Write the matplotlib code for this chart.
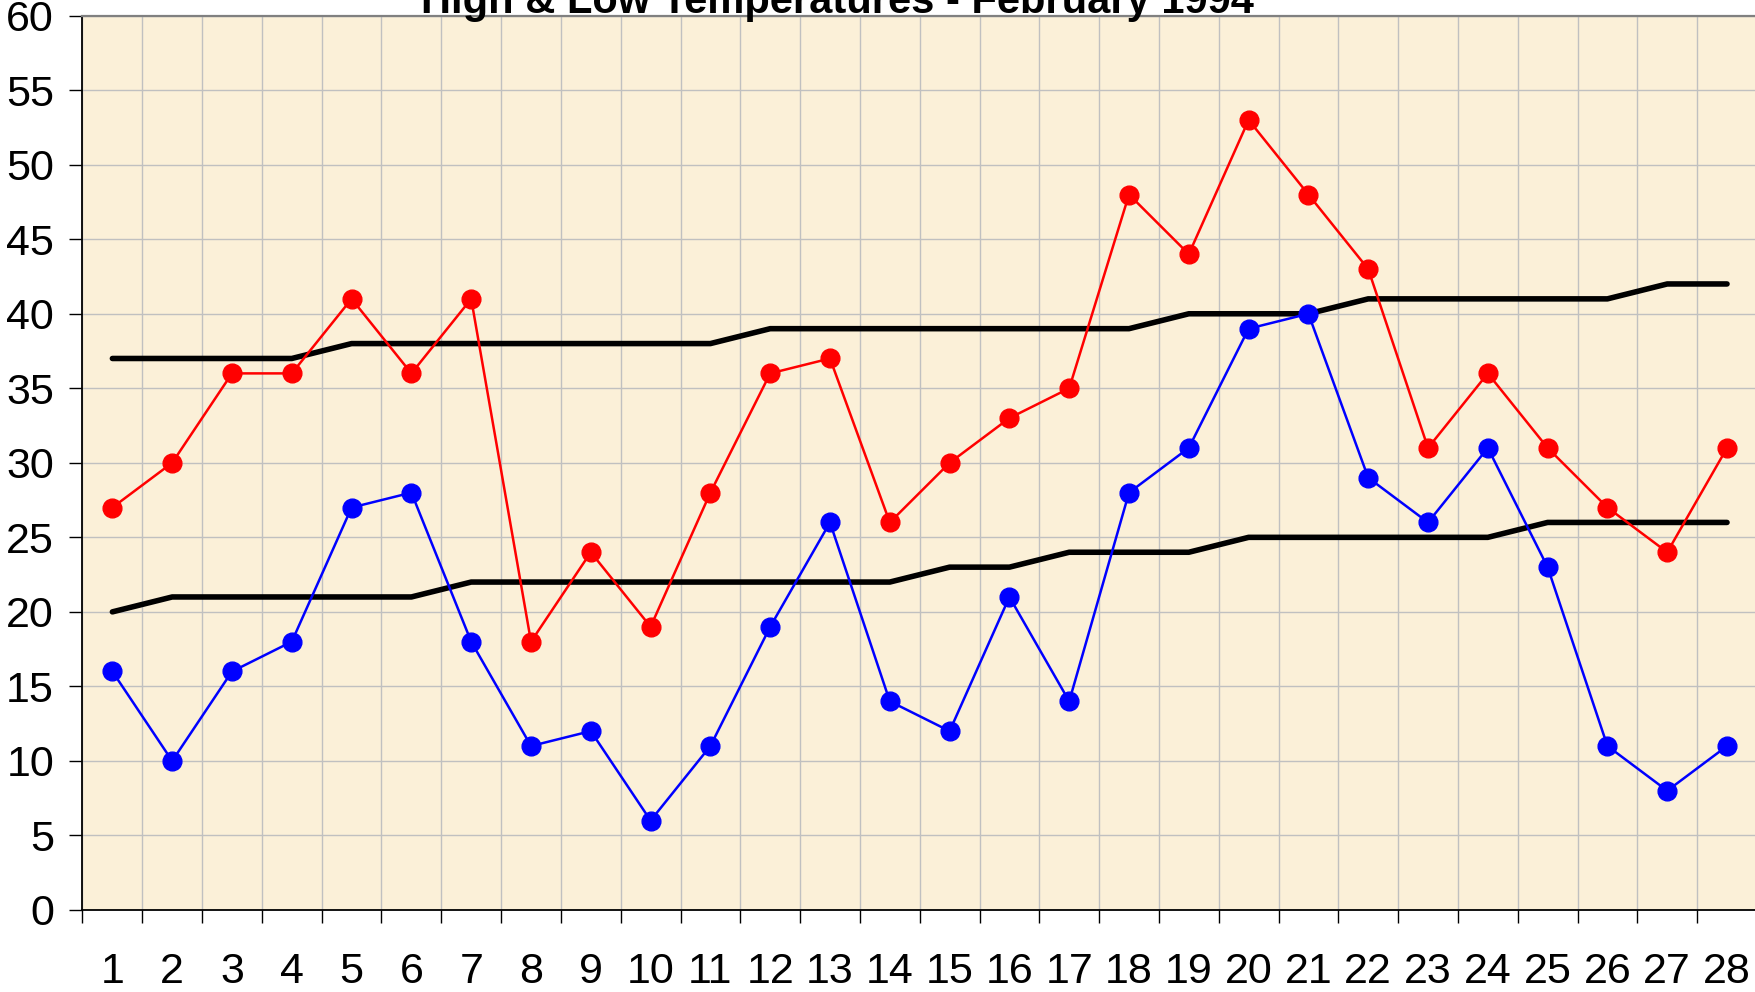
import matplotlib
matplotlib.use("Agg")
import matplotlib.pyplot as plt
from matplotlib.ticker import FixedLocator, NullFormatter

plt.rcParams["font.family"] = ["Liberation Sans", "DejaVu Sans"]

days = list(range(1, 29))
day_labels = [str(d) for d in days]

high = [27, 30, 36, 36, 41, 36, 41, 18, 24, 19, 28, 36, 37, 26,
        30, 33, 35, 48, 44, 53, 48, 43, 31, 36, 31, 27, 24, 31]
low = [16, 10, 16, 18, 27, 28, 18, 11, 12, 6, 11, 19, 26, 14,
       12, 21, 14, 28, 31, 39, 40, 29, 26, 31, 23, 11, 8, 11]
normal_high = [37, 37, 37, 37, 38, 38, 38, 38, 38, 38, 38, 39, 39, 39,
               39, 39, 39, 39, 40, 40, 40, 41, 41, 41, 41, 41, 42, 42]
normal_low = [20, 21, 21, 21, 21, 21, 22, 22, 22, 22, 22, 22, 22, 22,
              23, 23, 24, 24, 24, 25, 25, 25, 25, 25, 26, 26, 26, 26]

fig = plt.figure(figsize=(17.55, 9.92), dpi=100)
ax = fig.add_axes([0.0470, 0.0827, 0.9541, 0.9015])
ax.set_facecolor("#FBF0D8")

# normal lines
ax.plot(days, normal_high, color="black", lw=4, solid_capstyle="round", zorder=3)
ax.plot(days, normal_low, color="black", lw=4, solid_capstyle="round", zorder=3)

# actual temperatures
ax.plot(days, high, color="#FF0000", lw=1.8, marker="o", markersize=13.5,
        markerfacecolor="#FF0000", markeredgecolor="#FF0000", zorder=4)
ax.plot(days, low, color="#0000FF", lw=1.8, marker="o", markersize=13.5,
        markerfacecolor="#0000FF", markeredgecolor="#0000FF", zorder=4)

ax.set_xlim(0.5, 28.5)
ax.set_ylim(0, 60)
ax.set_yticks(range(0, 61, 5))

# ticks/gridlines between the days, labels centered on them
ax.xaxis.set_major_locator(FixedLocator([d + 0.5 for d in range(0, 29)]))
ax.xaxis.set_major_formatter(NullFormatter())
ax.xaxis.set_minor_locator(FixedLocator(days))
ax.set_xticklabels(day_labels, minor=True)
ax.tick_params(axis="x", which="major", direction="out", length=9.5, width=1, color="black")
ax.tick_params(axis="x", which="minor", length=0, pad=30, labelsize=31)
ax.tick_params(axis="y", direction="out", length=9.5, width=1, pad=11, labelsize=31)

ax.grid(True, which="major", color="#C0C0C0", lw=1)
ax.set_axisbelow(True)

ax.spines["top"].set_color("#808080")
ax.spines["top"].set_linewidth(1.6)
ax.spines["left"].set_linewidth(1.3)
ax.spines["bottom"].set_linewidth(1.3)
ax.spines["right"].set_visible(False)

fig.text(0.477, 0.987, "High & Low Temperatures - February 1994", ha="center",
         va="baseline", fontsize=30, fontweight="bold")

fig.savefig("out.png", dpi=100)
